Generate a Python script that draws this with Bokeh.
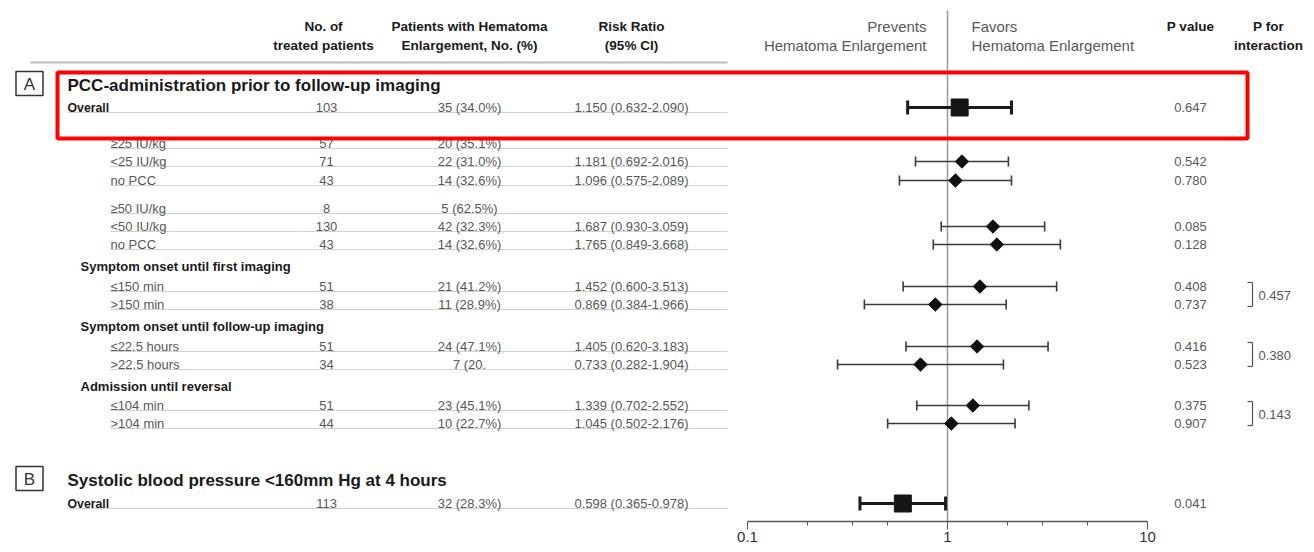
from bokeh.plotting import figure
from bokeh.models import Range1d, LogScale, LogAxis, FixedTicker, ColumnDataSource
from bokeh.core.properties import value
from bokeh.embed import file_html
from bokeh.resources import INLINE

# ---------------- data ----------------
section_letters = ["A", "B"]
section_titles = ["PCC-administration prior to follow-up imaging",
                  "Systolic blood pressure <160mm Hg at 4 hours"]

category_labels = ["Symptom onset until first imaging",
                   "Symptom onset until follow-up imaging",
                   "Admission until reversal"]

row_labels = ["Overall", "\u226525 IU/kg", "<25 IU/kg", "no PCC",
              "\u226550 IU/kg", "<50 IU/kg", "no PCC",
              "\u2264150 min", ">150 min",
              "\u226422.5 hours", ">22.5 hours",
              "\u2264104 min", ">104 min",
              "Overall"]
row_is_overall = [True, False, False, False, False, False, False,
                  False, False, False, False, False, False, True]
n_treated = ["103", "57", "71", "43", "8", "130", "43", "51", "38", "51", "34", "51", "44", "113"]
n_events = ["35 (34.0%)", "20 (35.1%)", "22 (31.0%)", "14 (32.6%)", "5 (62.5%)",
            "42 (32.3%)", "14 (32.6%)", "21 (41.2%)", "11 (28.9%)", "24 (47.1%)",
            "7 (20.", "23 (45.1%)", "10 (22.7%)", "32 (28.3%)"]
risk_ratio = [1.150, None, 1.181, 1.096, None, 1.687, 1.765, 1.452, 0.869, 1.405, 0.733, 1.339, 1.045, 0.598]
ci_low = [0.632, None, 0.692, 0.575, None, 0.930, 0.849, 0.600, 0.384, 0.620, 0.282, 0.702, 0.502, 0.365]
ci_high = [2.090, None, 2.016, 2.089, None, 3.059, 3.668, 3.513, 1.966, 3.183, 1.904, 2.552, 2.176, 0.978]
p_values = ["0.647", "", "0.542", "0.780", "", "0.085", "0.128", "0.408", "0.737",
            "0.416", "0.523", "0.375", "0.907", "0.041"]

interaction_pairs = [(7, 8), (9, 10), (11, 12)]
p_interaction = ["0.457", "0.380", "0.143"]

x_ticks = [0.1, 1, 10]
x_minor_ticks = [0.2, 1 / 3, 0.5, 2, 3, 5]

# ---------------- layout (pixel coordinates) ----------------
X0, X1 = 0, 1306
Y_TOP, Y_BOT = 0, 521
X_ONE, DECADE = 947, 200

row_y = [107, 143, 161, 180, 208, 226, 244, 286, 304, 346, 364, 405, 423, 503]
category_y = [266, 326, 386]
section_y = [84, 479]

COL_N, COL_EV, COL_RR, COL_P = 326, 469, 631, 1190
LINE_END = 727

FONT = value("Liberation Sans")
DARK = "#1a1a1a"
GRAY = "#585858"

p = figure(width=X1 - X0, height=544,
           x_range=Range1d(X0, X1), y_range=Range1d(Y_BOT, Y_TOP),
           output_backend="svg", toolbar_location=None,
           x_axis_location=None, y_axis_location=None, min_border=0)
p.outline_line_color = None
p.background_fill_color = "white"
p.border_fill_color = "white"
try:
    p.xgrid.visible = False
    p.ygrid.visible = False
except Exception:
    pass

p.extra_x_ranges = {"rr": Range1d(10 ** ((X0 - X_ONE) / DECADE), 10 ** ((X1 - X_ONE) / DECADE))}
p.extra_x_scales = {"rr": LogScale()}

ax = LogAxis(x_range_name="rr",
             ticker=FixedTicker(ticks=x_ticks, minor_ticks=x_minor_ticks),
             bounds=(0.1, 10))
ax.major_label_overrides = {0.1: "0.1", 1: "1", 10: "10"}
ax.axis_line_color = "#555555"
ax.axis_line_width = 1.3
ax.major_tick_line_color = "#555555"
ax.minor_tick_line_color = "#555555"
ax.major_tick_out = 8
ax.major_tick_in = 0
ax.minor_tick_out = 4
ax.minor_tick_in = 0
ax.major_label_standoff = 2
ax.major_label_text_font = "Liberation Sans"
ax.major_label_text_font_size = "15px"
ax.major_label_text_color = "#333333"
p.add_layout(ax, "below")


def txt(x, y, s, size="13px", style="normal", color=GRAY, align="left"):
    p.text(x=[x], y=[y], text=[s], text_font=FONT, text_font_size=size,
           text_font_style=style, text_color=color, text_align=align,
           text_baseline="middle")


# ---------------- header ----------------
hdr = "13.5px"
txt(COL_N - 3, 26, "No. of", hdr, "bold", DARK, "center")
txt(COL_N - 3, 45, "treated patients", hdr, "bold", DARK, "center")
txt(COL_EV, 26, "Patients with Hematoma", hdr, "bold", DARK, "center")
txt(COL_EV, 45, "Enlargement, No. (%)", hdr, "bold", DARK, "center")
txt(COL_RR, 26, "Risk Ratio", hdr, "bold", DARK, "center")
txt(COL_RR, 45, "(95% CI)", hdr, "bold", DARK, "center")
txt(926, 26, "Prevents", "15px", "normal", GRAY, "right")
txt(926, 45, "Hematoma Enlargement", "15px", "normal", GRAY, "right")
txt(971, 26, "Favors", "15px", "normal", GRAY, "left")
txt(971, 45, "Hematoma Enlargement", "15px", "normal", GRAY, "left")
txt(COL_P, 26, "P value", hdr, "bold", DARK, "center")
txt(1268, 26, "P for", hdr, "bold", DARK, "center")
txt(1268, 45, "interaction", hdr, "bold", DARK, "center")
p.segment(x0=[30], x1=[LINE_END], y0=[62], y1=[62], line_color="#bbbbbb", line_width=2)

# reference line at RR = 1
p.segment(x0=[1], x1=[1], y0=[10], y1=[Y_BOT], x_range_name="rr",
          line_color="#9a9a9a", line_width=1.5)

# ---------------- sections & categories ----------------
for letter, title, y in zip(section_letters, section_titles, section_y):
    p.rect(x=[29], y=[y - 1], width=27, height=24, fill_color=None,
           line_color="#333333", line_width=1.5)
    txt(29, y, letter, "17px", "normal", "#333333", "center")
    txt(67, y + 1, title, "17px", "bold", DARK, "left")

for lab, y in zip(category_labels, category_y):
    txt(80, y, lab, "13px", "bold", DARK, "left")

# ---------------- rows ----------------
for i, lab in enumerate(row_labels):
    y = row_y[i]
    lx = 67 if row_is_overall[i] else 110
    p.segment(x0=[lx], x1=[LINE_END], y0=[y + 5], y1=[y + 5], line_color="#d0d0d0", line_width=1.2)
    if row_is_overall[i]:
        txt(lx, y, lab, "12.3px", "bold", DARK, "left")
    else:
        txt(lx, y, lab, "13px", "normal", GRAY, "left")
    txt(COL_N, y, n_treated[i], "13px", "normal", GRAY, "center")
    txt(COL_EV, y, n_events[i], "13px", "normal", GRAY, "center")
    if risk_ratio[i] is not None:
        txt(COL_RR, y, f"{risk_ratio[i]:.3f} ({ci_low[i]:.3f}-{ci_high[i]:.3f})", "13px", "normal", GRAY, "center")
    if p_values[i]:
        txt(COL_P, y, p_values[i], "13px", "normal", GRAY, "center")

# forest markers
ov = [i for i in range(len(row_labels)) if risk_ratio[i] is not None and row_is_overall[i]]
sg = [i for i in range(len(row_labels)) if risk_ratio[i] is not None and not row_is_overall[i]]

src_ov = ColumnDataSource(dict(y=[row_y[i] for i in ov], rr=[risk_ratio[i] for i in ov],
                               lo=[ci_low[i] for i in ov], hi=[ci_high[i] for i in ov],
                               yt=[row_y[i] - 7 for i in ov], yb=[row_y[i] + 7 for i in ov]))
src_sg = ColumnDataSource(dict(y=[row_y[i] for i in sg], rr=[risk_ratio[i] for i in sg],
                               lo=[ci_low[i] for i in sg], hi=[ci_high[i] for i in sg],
                               yt=[row_y[i] - 5 for i in sg], yb=[row_y[i] + 5 for i in sg]))

p.segment(x0="lo", x1="hi", y0="y", y1="y", source=src_sg, x_range_name="rr", line_color="#3a3a3a", line_width=1.6)
p.segment(x0="lo", x1="lo", y0="yt", y1="yb", source=src_sg, x_range_name="rr", line_color="#3a3a3a", line_width=1.6)
p.segment(x0="hi", x1="hi", y0="yt", y1="yb", source=src_sg, x_range_name="rr", line_color="#3a3a3a", line_width=1.6)
p.scatter(x="rr", y="y", source=src_sg, x_range_name="rr", marker="square", size=9.5, angle=0.785398,
          fill_color="#111111", line_color="#111111")

p.segment(x0="lo", x1="hi", y0="y", y1="y", source=src_ov, x_range_name="rr", line_color="#1a1a1a", line_width=3)
p.segment(x0="lo", x1="lo", y0="yt", y1="yb", source=src_ov, x_range_name="rr", line_color="#1a1a1a", line_width=3)
p.segment(x0="hi", x1="hi", y0="yt", y1="yb", source=src_ov, x_range_name="rr", line_color="#1a1a1a", line_width=3)
p.scatter(x="rr", y="y", source=src_ov, x_range_name="rr", marker="square", size=17,
          fill_color="#151515", line_color="#151515")

# interaction p values with brackets
for (a, b), pv in zip(interaction_pairs, p_interaction):
    ya, yb = row_y[a] - 4, row_y[b] + 2
    p.segment(x0=[1252], x1=[1252], y0=[ya], y1=[yb], line_color="#555555", line_width=1.2)
    p.segment(x0=[1247, 1247], x1=[1252, 1252], y0=[ya, yb], y1=[ya, yb], line_color="#555555", line_width=1.2)
    txt(1258, (row_y[a] + row_y[b]) / 2, pv, "13px", "normal", GRAY, "left")

# highlight box
p.quad(left=[57], right=[1247], top=[72], bottom=[138], fill_color=None,
       line_color="#ff0000", line_width=4)

open("out.html", "w").write(file_html(p, INLINE))
